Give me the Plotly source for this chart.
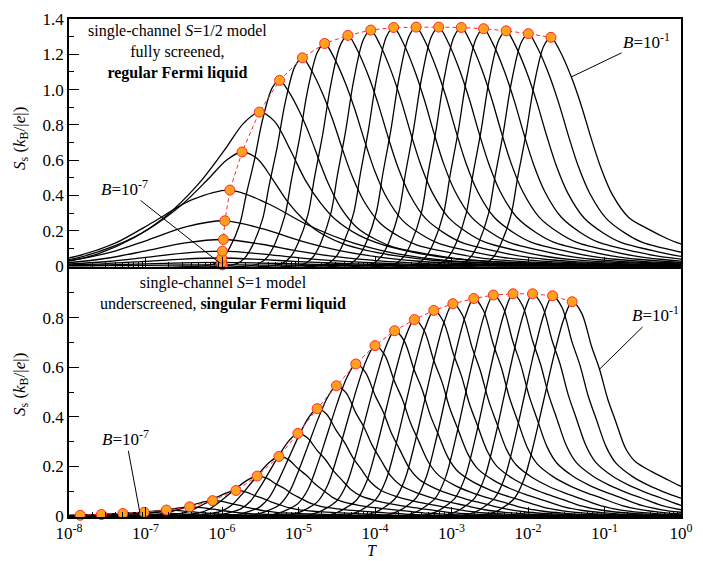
import numpy as np
import plotly.graph_objects as go

# ---------------- data ----------------
# Top panel (S=1/2): peak positions (log10 T) and peak heights of the curves (orange markers)
TOP_PEAK_LOGT = [-5.995, -6.004, -6.004, -5.995, -5.982, -5.962, -5.897, -5.738, -5.513, -5.247,
                 -4.949, -4.658, -4.354, -4.055, -3.756, -3.462, -3.167, -2.872, -2.581, -2.286,
                 -1.995, -1.700]
TOP_PEAK_S = [0.006, 0.02, 0.045, 0.084, 0.15, 0.256, 0.43, 0.646, 0.872, 1.052,
              1.180, 1.261, 1.307, 1.337, 1.352, 1.354, 1.354, 1.352, 1.345, 1.333,
              1.317, 1.296]
# which profile each top curve follows: 0 broad, 1 mid, 2 narrow, 3 last (B=1e-1)
TOP_SHAPE_ID = [0, 0, 0, 0, 0, 0, 0, 1, 1, 2, 2, 2, 2, 2, 2, 2, 2, 2, 2, 2, 2, 3]

# Bottom panel (S=1)
BOT_PEAK_LOGT = [-7.854, -7.577, -7.295, -7.017, -6.726, -6.423, -6.123, -5.818, -5.540, -5.256,
                 -5.008, -4.756, -4.504, -4.251, -4.000, -3.744, -3.485, -3.231, -2.982, -2.709,
                 -2.453, -2.196, -1.940, -1.679, -1.423]
BOT_PEAK_S = [0.003, 0.006, 0.010, 0.015, 0.024, 0.037, 0.062, 0.103, 0.161, 0.240,
              0.333, 0.433, 0.525, 0.613, 0.687, 0.747, 0.792, 0.829, 0.856, 0.877,
              0.891, 0.896, 0.896, 0.888, 0.864]
BOT_SHAPE_ID = [0] * 24 + [1]

# Normalised curve profiles: offset from the peak (decades) / S relative to peak
BROAD_D = [-9.0, -3.5, -3.0, -2.5, -2.0, -1.5, -1.0, -0.5, 0.0, 0.5, 1.0, 1.5, 2.0, 2.5, 3.0, 4.0, 5.0, 6.0]
BROAD_S = [0.0, 0.01, 0.025, 0.05, 0.13, 0.30, 0.58, 0.87, 1.0, 0.82, 0.55, 0.34, 0.20, 0.11, 0.06, 0.02, 0.005, 0.0]

MID_D = [-9.0, -3.0, -2.5, -2.1, -1.65, -1.23, -0.8, -0.46, -0.2, 0.0, 0.2, 0.4, 0.6, 0.8, 1.0, 1.3, 1.6, 2.0, 2.5, 3.0, 4.0, 5.0, 6.0]
MID_S = [0.0, 0.01, 0.03, 0.08, 0.18, 0.32, 0.53, 0.75, 0.93, 1.0, 0.94, 0.76, 0.56, 0.41, 0.30, 0.20, 0.14, 0.09, 0.05, 0.03, 0.012, 0.005, 0.0]

NARROW_D = [-9.0, -1.0, -0.85, -0.75, -0.65, -0.52, -0.436, -0.329, -0.223, -0.095, 0.0, 0.119, 0.269, 0.397,
            0.526, 0.654, 0.803, 1.017, 1.27, 1.5, 2.0, 2.3, 2.6, 3.0, 4.0, 5.0, 6.0, 7.0]
NARROW_S = [0.0, 0.0, 0.012, 0.04, 0.10, 0.226, 0.385, 0.572, 0.788, 0.961, 1.0, 0.939, 0.824, 0.701,
            0.558, 0.428, 0.312, 0.205, 0.14, 0.10, 0.059, 0.04, 0.028, 0.018, 0.007, 0.003, 0.0015, 0.0007]

TOPLAST_D = [-9.0, -1.0, -0.85, -0.75, -0.65, -0.52, -0.436, -0.329, -0.223, -0.095, 0.0, 0.119, 0.269, 0.397,
             0.526, 0.654, 0.803, 1.017, 1.273, 1.529, 1.7, 2.0]
TOPLAST_S = [0.0, 0.0, 0.012, 0.04, 0.10, 0.226, 0.385, 0.572, 0.788, 0.961, 1.0, 0.939, 0.824, 0.701,
             0.558, 0.428, 0.312, 0.212, 0.161, 0.118, 0.096, 0.075]

BOT_D = [-9.0, -1.2, -1.0, -0.88, -0.753, -0.624, -0.496, -0.368, -0.24, -0.112, 0.0, 0.124, 0.253, 0.359,
         0.465, 0.573, 0.701, 0.829, 1.042, 1.25, 1.45, 1.68, 1.94, 2.2, 2.45, 2.7, 3.2, 4.0, 5.0]
BOT_S = [0.0, 0.0, 0.02, 0.045, 0.083, 0.176, 0.346, 0.546, 0.746, 0.916, 1.0, 0.947, 0.792, 0.684,
         0.546, 0.438, 0.314, 0.24, 0.18, 0.14, 0.11, 0.081, 0.048, 0.028, 0.017, 0.01, 0.004, 0.001, 0.0]

BOTLAST_D = [-9.0, -1.2, -1.0, -0.88, -0.753, -0.624, -0.496, -0.368, -0.24, -0.112, 0.0, 0.124, 0.253, 0.359,
             0.465, 0.573, 0.701, 0.829, 1.042, 1.256, 1.427, 1.7]
BOTLAST_S = [0.0, 0.0, 0.02, 0.045, 0.083, 0.176, 0.346, 0.546, 0.746, 0.916, 1.0, 0.947, 0.792, 0.684,
             0.546, 0.438, 0.314, 0.253, 0.207, 0.168, 0.138, 0.11]

X_TICK_EXP = [-8, -7, -6, -5, -4, -3, -2, -1, 0]
TOP_Y_TICKS = [0, 0.2, 0.4, 0.6, 0.8, 1.0, 1.2, 1.4]
TOP_Y_LABELS = ["0", "0.2", "0.4", "0.6", "0.8", "1.0", "1.2", "1.4"]
BOT_Y_TICKS = [0, 0.2, 0.4, 0.6, 0.8]
BOT_Y_LABELS = ["0", "0.2", "0.4", "0.6", "0.8"]

TOP_PROFILES = [(BROAD_D, BROAD_S), (MID_D, MID_S), (NARROW_D, NARROW_S), (TOPLAST_D, TOPLAST_S)]
BOT_PROFILES = [(BOT_D, BOT_S), (BOTLAST_D, BOTLAST_S)]

# ---------------- figure ----------------
FONT = "Liberation Serif, Times New Roman, Times, serif"
fig = go.Figure()


def add_curve(lt, sp, prof, xa, ya):
    dd, ss = prof
    x = [10 ** (lt + d) for d in dd]
    y = [sp * s for s in ss]
    fig.add_trace(go.Scatter(x=x, y=y, mode="lines", xaxis=xa, yaxis=ya,
                             line=dict(color="black", width=1.3, shape="spline", smoothing=0.9),
                             showlegend=False, hoverinfo="skip"))


for lt, sp, sid in zip(TOP_PEAK_LOGT, TOP_PEAK_S, TOP_SHAPE_ID):
    add_curve(lt, sp, TOP_PROFILES[sid], "x", "y")
for lt, sp, sid in zip(BOT_PEAK_LOGT, BOT_PEAK_S, BOT_SHAPE_ID):
    add_curve(lt, sp, BOT_PROFILES[sid], "x2", "y2")

marker = dict(symbol="circle", size=10, color="#FFA11C", line=dict(color="#FF2A2A", width=1))
fig.add_trace(go.Scatter(x=[10 ** v for v in TOP_PEAK_LOGT], y=TOP_PEAK_S, mode="lines+markers",
                         xaxis="x", yaxis="y", marker=marker,
                         line=dict(color="#FF2A2A", width=1, dash="4px,3px"),
                         showlegend=False, hoverinfo="skip", cliponaxis=False))
fig.add_trace(go.Scatter(x=[10 ** v for v in BOT_PEAK_LOGT], y=BOT_PEAK_S, mode="lines+markers",
                         xaxis="x2", yaxis="y2", marker=marker,
                         line=dict(color="#FF2A2A", width=1, dash="4px,3px"),
                         showlegend=False, hoverinfo="skip", cliponaxis=False))

minor_x = [m * 10.0 ** e for e in range(-8, 0) for m in range(2, 10)]
xcommon = dict(type="log", range=[-8, 0], showline=True, linecolor="black", linewidth=1.5, mirror=True,
               ticks="inside", ticklen=10, tickwidth=1.2, tickcolor="black", showgrid=False, zeroline=False,
               tickvals=[10.0 ** e for e in X_TICK_EXP],
               ticktext=["10<sup>%d</sup>" % e for e in X_TICK_EXP],
               minor=dict(tickvals=minor_x, ticks="inside", ticklen=5, tickwidth=1, tickcolor="black",
                          showgrid=False),
               tickfont=dict(family=FONT, size=17, color="black"))
ycommon = dict(showline=True, linecolor="black", linewidth=1.5, mirror=True, ticks="inside", ticklen=10,
               tickwidth=1.2, tickcolor="black", showgrid=False, zeroline=False,
               minor=dict(dtick=0.1, ticks="inside", ticklen=5, tickwidth=1, tickcolor="black", showgrid=False),
               tickfont=dict(family=FONT, size=17, color="black"))

fig.update_layout(
    width=703, height=561,
    margin=dict(l=69, r=10, t=15, b=44),
    plot_bgcolor="white", paper_bgcolor="white",
    xaxis=dict(xcommon, anchor="y", showticklabels=False),
    xaxis2=dict(xcommon, anchor="y2", matches="x"),
    yaxis=dict(ycommon, domain=[0.502, 1.0], range=[-0.006, 1.4], tickvals=TOP_Y_TICKS, ticktext=TOP_Y_LABELS,
               anchor="x"),
    yaxis2=dict(ycommon, domain=[0.0, 0.498], range=[-0.004, 0.996], tickvals=BOT_Y_TICKS,
                ticktext=BOT_Y_LABELS, anchor="x2"),
    font=dict(family=FONT, size=17, color="black"),
)


def px2paper(px, py):
    return (px - 69.0) / 624.0, (517.0 - py) / 502.0


texts = [
    ("single-channel <i>S</i>=1/2 model<br>fully screened,<br><b>regular Fermi liquid</b>", 179.5, 48.0),
    ("single-channel <i>S</i>=1 model<br>underscreened, <b>singular Fermi liquid</b>", 225.6, 291.7),
]
for t, px, py in texts:
    xp, yp = px2paper(px, py)
    fig.add_annotation(text=t, x=xp, y=yp, xref="paper", yref="paper", showarrow=False, align="center",
                       xanchor="center", yanchor="middle", font=dict(family=FONT, size=16, color="black"))

# y-axis titles
for py in (135.0, 383.0):
    xp, yp = px2paper(20.0, py)
    fig.add_annotation(text="<i>S</i><sub>s</sub> (<i>k</i><sub>B</sub>/|<i>e</i>|)", x=xp, y=yp,
                       xref="paper", yref="paper", showarrow=False, textangle=-90,
                       xanchor="center", yanchor="middle", font=dict(family=FONT, size=17, color="black"))
xp, yp = px2paper(378.0, 551.0)
fig.add_annotation(text="<i>T</i>", x=xp, y=yp, xref="paper", yref="paper", showarrow=False,
                   xanchor="center", yanchor="middle", font=dict(family=FONT, size=16, color="black"))

# B labels with pointer lines
labels = [
    ("x", "y", -1.431, 1.072, 75, -36),
    ("x2", "y2", -1.068, 0.591, 56, -55),
    ("x", "y", -6.03, 0.017, -95, -75),
    ("x2", "y2", -7.072, 0.011, -14, -75),
]
btexts = ["<i>B</i>=10<sup>-1</sup>", "<i>B</i>=10<sup>-1</sup>", "<i>B</i>=10<sup>-7</sup>", "<i>B</i>=10<sup>-7</sup>"]
for (xa, ya, lx, ly, ax, ay), t in zip(labels, btexts):
    fig.add_annotation(text=t, x=lx, y=ly, xref=xa, yref=ya, showarrow=True, arrowhead=0, arrowwidth=1,
                       arrowcolor="black", ax=ax, ay=ay, standoff=0,
                       font=dict(family=FONT, size=17, color="black"))

fig.write_html("out.html", config={"displayModeBar": False},
               post_script="document.body.style.margin='0px';document.body.style.overflow='hidden';")
